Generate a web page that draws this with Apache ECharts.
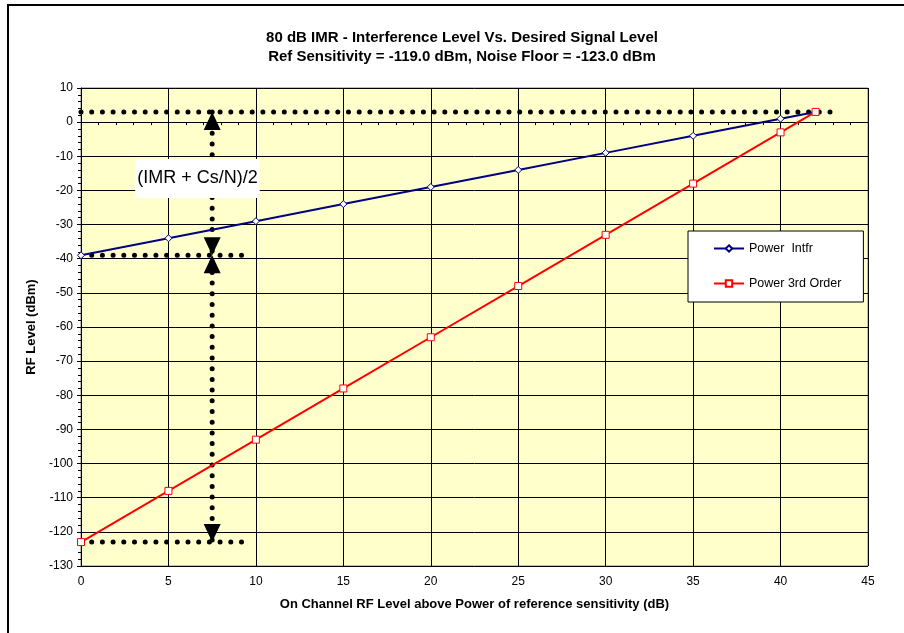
<!DOCTYPE html>
<html>
<head>
<meta charset="utf-8">
<script src="https://cdn.jsdelivr.net/npm/echarts@6/dist/echarts.min.js"></script>
<style>
    html, body { margin: 0; padding: 0; background: #fff; }
    #chart { width: 904px; height: 633px; }
</style>
</head>
<body>
<div id="chart"></div>
<script>
    // 数据
    const xLevels = [0, 5, 10, 15, 20, 25, 30, 35, 40, 42];
    const powerIntfr = [-39, -34, -29, -24, -19, -14, -9, -4, 1, 3];
    const power3rd = [-123, -108, -93, -78, -63, -48, -33, -18, -3, 3];

    // 辅助虚线 (x, y)
    const guideTop = [[0, 3], [43.2, 3]];
    const guideMid = [[0, -39], [9.2, -39]];
    const guideLow = [[0, -123], [9.2, -123]];
    const guideVert = [[7.5, 3], [7.5, -123]];
    const arrowsUp = [[7.5, 3], [7.5, -39]];
    const arrowsDown = [[7.5, -39], [7.5, -123]];
    const boxLabelPos = [[6.66, -16.5]];

    const FONT = 'Arial, "Liberation Sans", sans-serif';

    const pairs = (xs, ys) => xs.map((x, i) => [x, ys[i]]);

    const dotted = (name, data) => ({
        name: name,
        type: "line",
        data: data,
        symbol: "none",
        silent: true,
        z: 3,
        lineStyle: { color: "#000", width: 5, type: [0, 10.7], cap: "round" }
    });

    const chart = echarts.init(document.getElementById("chart"));

    chart.setOption({
        animation: false,
        graphic: [
            {
                type: "rect",
                shape: { x: 8, y: 5, width: 1000, height: 1000 },
                style: { fill: "none", stroke: "#000", lineWidth: 2 },
                silent: true
            },
            {
                type: "text",
                x: 462,
                y: 38,
                style: {
                    text: "80 dB IMR - Interference Level Vs. Desired Signal Level",
                    font: "bold 15px " + FONT,
                    fill: "#000",
                    align: "center",
                    verticalAlign: "middle"
                }
            },
            {
                type: "text",
                x: 462,
                y: 57,
                style: {
                    text: "Ref Sensitivity = -119.0 dBm, Noise Floor = -123.0 dBm",
                    font: "bold 15px " + FONT,
                    fill: "#000",
                    align: "center",
                    verticalAlign: "middle"
                }
            }
        ],
        grid: {
            left: 81,
            right: 36,
            top: 88,
            bottom: 67,
            show: true,
            backgroundColor: "#FFFFCC",
            borderColor: "#808080",
            borderWidth: 1
        },
        legend: {
            data: ["Power  Intfr", "Power 3rd Order"],
            orient: "vertical",
            left: 688,
            top: 231,
            padding: [11, 22, 12, 25],
            itemWidth: 30,
            itemHeight: 8,
            itemGap: 22,
            backgroundColor: "#fff",
            borderColor: "#000",
            borderWidth: 1,
            textStyle: { fontFamily: FONT, fontSize: 12.5, color: "#000" }
        },
        xAxis: {
            type: "value",
            min: 0,
            max: 45,
            interval: 5,
            name: "On Channel RF Level above Power of reference sensitivity (dB)",
            nameLocation: "middle",
            nameGap: 32,
            nameTextStyle: { fontFamily: FONT, fontSize: 13, fontWeight: "bold", color: "#000" },
            axisLine: { show: true, lineStyle: { color: "#000", width: 1 } },
            axisTick: { show: true, length: 4, lineStyle: { color: "#000" } },
            minorTick: { show: true, splitNumber: 5, length: 3, lineStyle: { color: "#000" } },
            axisLabel: { margin: 10, fontFamily: FONT, fontSize: 12, color: "#000" },
            splitLine: { show: true, lineStyle: { color: "#000", width: 1 } }
        },
        yAxis: {
            type: "value",
            min: -130,
            max: 10,
            interval: 10,
            name: "RF Level (dBm)",
            nameLocation: "middle",
            nameGap: 42,
            nameTextStyle: { fontFamily: FONT, fontSize: 13, fontWeight: "bold", color: "#000" },
            axisLine: { show: true, lineStyle: { color: "#000", width: 1 } },
            axisTick: { show: true, length: 4, lineStyle: { color: "#000" } },
            minorTick: { show: true, splitNumber: 5, length: 3, lineStyle: { color: "#000" } },
            axisLabel: { margin: 8, fontFamily: FONT, fontSize: 12, color: "#000" },
            splitLine: { show: true, lineStyle: { color: "#000", width: 1 } }
        },
        series: [
            dotted("guideTop", guideTop),
            dotted("guideMid", guideMid),
            dotted("guideLow", guideLow),
            dotted("guideVert", guideVert),
            {
                name: "Power  Intfr",
                type: "line",
                data: pairs(xLevels, powerIntfr),
                symbol: "diamond",
                symbolSize: 7,
                showAllSymbol: true,
                z: 4,
                lineStyle: { color: "#000080", width: 2 },
                itemStyle: { color: "#fff", borderColor: "#000080", borderWidth: 1 }
            },
            {
                name: "Power 3rd Order",
                type: "line",
                data: pairs(xLevels, power3rd),
                symbol: "rect",
                symbolSize: 7,
                showAllSymbol: true,
                z: 5,
                lineStyle: { color: "#FF0000", width: 2 },
                itemStyle: { color: "#fff", borderColor: "#FF0000", borderWidth: 1 }
            },
            {
                name: "arrowsUp",
                type: "scatter",
                data: arrowsUp,
                symbol: "triangle",
                symbolSize: [17, 18],
                symbolOffset: [0, "50%"],
                silent: true,
                z: 6,
                itemStyle: { color: "#000", opacity: 1 }
            },
            {
                name: "arrowsDown",
                type: "scatter",
                data: arrowsDown,
                symbol: "triangle",
                symbolSize: [17, 18],
                symbolRotate: 180,
                symbolOffset: [0, "-50%"],
                silent: true,
                z: 6,
                itemStyle: { color: "#000", opacity: 1 }
            },
            {
                name: "boxLabel",
                type: "scatter",
                data: boxLabelPos,
                symbolSize: 1,
                silent: true,
                z: 7,
                itemStyle: { color: "#FFFFCC", opacity: 1 },
                label: {
                    show: true,
                    position: "inside",
                    formatter: "(IMR + Cs/N)/2",
                    fontFamily: FONT,
                    fontSize: 18,
                    color: "#000",
                    opacity: 1,
                    backgroundColor: "#fff",
                    padding: [11, 2, 10, 2]
                }
            }
        ]
    });
</script>
</body>
</html>
